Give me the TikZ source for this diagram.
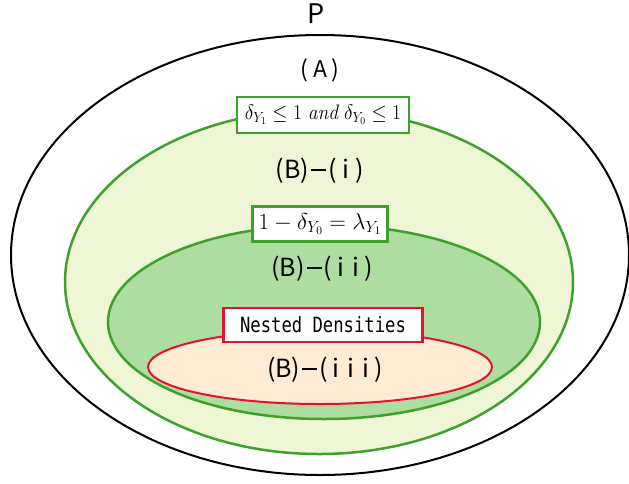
\RequirePackage{fix-cm}
\documentclass[tikz,border=0pt]{standalone}
\usepackage{fontspec}
\newfontfamily\jp{Noto Sans CJK JP}
\newfontfamily\mono{DejaVu Sans Mono}
\definecolor{gstroke}{HTML}{3EA12C}
\definecolor{glight}{HTML}{EEF6D5}
\definecolor{gmid}{HTML}{AEDDA0}
\definecolor{ofill}{HTML}{FEEBD3}
\definecolor{rstroke}{HTML}{E8102E}
\newcommand{\bdash}{\hspace{2pt}\rule[0.3em]{0.6em}{0.09em}\hspace{2pt}}
\begin{document}
\begin{tikzpicture}[x=1pt,y=-1pt,
  lbl/.style={font=\jp\fontsize{25}{29}\selectfont, inner sep=0pt},
  gbox/.style={draw=gstroke, line width=2.6pt, fill=white, inner sep=1pt},
  rbox/.style={draw=rstroke, line width=2.2pt, fill=white, inner sep=1pt, minimum width=199pt, minimum height=34pt, font=\mono\fontsize{21}{24}\selectfont}]
\useasboundingbox (0,0) rectangle (629,483);
\draw[black, line width=2pt] (320,255) ellipse [x radius=309, y radius=220];
\draw[gstroke, fill=glight, line width=2.5pt] (319,282) ellipse [x radius=254, y radius=172];
\draw[gstroke, fill=gmid, line width=2.5pt] (324,322) ellipse [x radius=216, y radius=97];
\draw[rstroke, fill=ofill, line width=2pt] (320,367) ellipse [x radius=172, y radius=37];
\node[lbl, font=\jp\fontsize{27}{30}\selectfont] (p) at (316,14) {P};
\node[lbl, font=\jp\fontsize{23}{27}\selectfont] (a) at (320,70) {(\hspace{5pt}A\hspace{5pt})};
\node[gbox, minimum width=172pt, minimum height=36pt, font=\fontsize{21}{24}\selectfont] (b1) at (323,115) {\scalebox{0.93}[1]{$\delta_{Y_1}\leq 1\ \mathit{and}\ \delta_{Y_0}\leq 1$}};
\node[lbl] (bi) at (320,171) {(B)\bdash(\hspace{6pt}i\hspace{6pt})};
\node[gbox, minimum width=135pt, minimum height=35pt, font=\fontsize{23}{26}\selectfont] (b2) at (320,224) {$1-\delta_{Y_0}=\lambda_{Y_1}$};
\node[lbl] (bii) at (322,269) {(B)\bdash(\hspace{5pt}i\hspace{8pt}i\hspace{5pt})};
\node[rbox] (b3) at (323,325) {\scalebox{0.82}[1]{Nested Densities}};
\node[lbl] (biii) at (325,370) {(B)\bdash(\hspace{5pt}i\hspace{8pt}i\hspace{8pt}i\hspace{5pt})};
\end{tikzpicture}
\end{document}
